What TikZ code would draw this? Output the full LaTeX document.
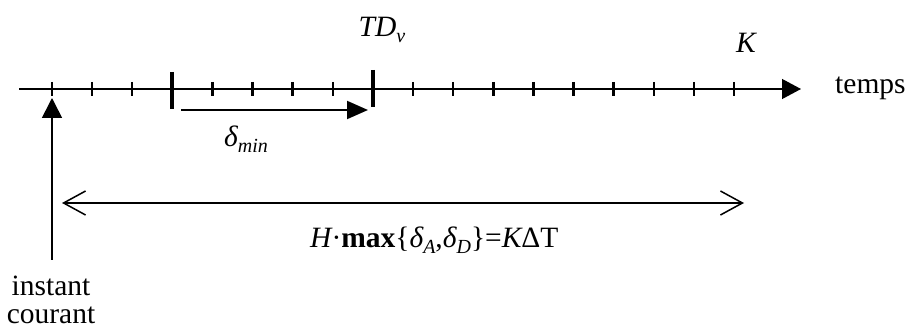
\documentclass[tikz,border=0pt]{standalone}
\usepackage{fontspec}
\setmainfont{Liberation Serif}
\usetikzlibrary{arrows.meta}
\newcommand\lowsub[1]{\raisebox{-0.17em}{\fontsize{20}{20}\selectfont #1}}
\begin{document}
\begin{tikzpicture}[x=1pt,y=-1pt,
  txt/.style={inner sep=0pt, font=\fontsize{29.5}{29.5}\selectfont},
  fml/.style={inner sep=0pt, font=\fontsize{29.5}{29.5}\selectfont},
  axisthin/.style={line width=1.2pt},
  axisthick/.style={line width=2pt},
  smalltick/.style={line width=2.5pt},
  endtick/.style={line width=1.2pt},
  bigtick/.style={line width=4pt},
  openarrow/.style={line width=1.5pt,{Straight Barb[length=22pt,width=24pt]}-{Straight Barb[length=22pt,width=24pt]}},
]
\useasboundingbox (0,0) rectangle (908,331);

% axis
\coordinate (ax0) at (19,89);
\coordinate (axa) at (52,89);
\coordinate (axb) at (734,89);
\coordinate (axend) at (801,89);
\draw[axisthin,-{Triangle[length=19pt,width=20pt]}] (ax0) -- (axend);
\draw[axisthick] (axa) -- (axb);

% ticks
\foreach \i in {1,2,4,5,6,7,9,10,11,12,13,14,15,16}
  \draw[smalltick] ({52+40.12*\i},82) -- ++(0,14);
\draw[endtick] (axa) ++(0,-7) -- ++(0,14);
\draw[endtick] (axb) ++(0,-7) -- ++(0,14);
\draw[bigtick] (172.4,72) -- (172.4,109);
\draw[bigtick] (373,70) -- (373,107);

% labels
\node[txt, anchor=base] (td) at (382,37) {\itshape TD\lowsub{v}};
\node[txt, anchor=base] (k) at (746,53) {\itshape K};
\node[txt, anchor=base west] (temps) at (835,94) {temps};
\node[txt, anchor=base] (dmin) at (246,147) {\itshape δ\lowsub{min}};
\node[txt, anchor=north, align=center] (inst) at (51,276) {instant\\[-2pt]courant};
\node[fml, anchor=base west] (form) at (310,248)
  {{\itshape H}·{\bfseries max}\{{\itshape δ\lowsub{A}},{\itshape δ\lowsub{D}}\}={\itshape K}ΔT};

% delta_min arrow
\coordinate (ds) at (181,110);
\coordinate (de) at (368,110);
\draw[line width=2pt,-{Triangle[length=21pt,width=18pt]}] (ds) -- (de);

% current instant arrow
\coordinate (ub) at (52,260);
\coordinate (ut) at (52,98);
\draw[line width=1.6pt,-{Triangle[length=20pt,width=20pt]}] (ub) -- (ut);

% horizon arrow
\coordinate (hl) at (62,203);
\coordinate (hr) at (744,203);
\draw[openarrow] (hl) -- (hr);
\end{tikzpicture}
\end{document}
